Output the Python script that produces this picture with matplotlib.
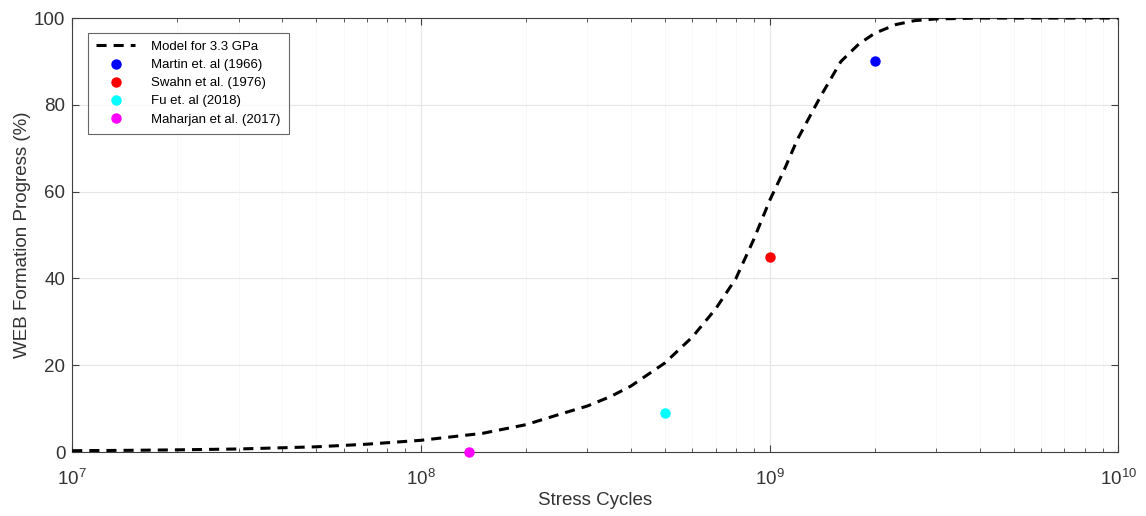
import numpy as np
import matplotlib
matplotlib.use("Agg")
import matplotlib.pyplot as plt

plt.rcParams['font.family'] = ['Liberation Sans', 'DejaVu Sans']

# model curve
cycles = [1e7, 1.5e7, 2e7, 3e7, 5e7, 7e7, 1e8, 1.5e8, 2e8, 2.5e8, 3e8, 3.5e8,
          4e8, 5e8, 6e8, 7e8, 8e8, 9e8, 1e9, 1.1e9, 1.2e9, 1.4e9, 1.6e9,
          1.8e9, 2e9, 2.3e9, 2.6e9, 3e9, 4e9, 6e9, 1e10]
progress = [0.3, 0.4, 0.5, 0.7, 1.2, 1.8, 2.7, 4.3, 6.3, 8.7, 10.6, 12.8,
            15.2, 20.5, 26.5, 33, 40, 49, 58, 65, 72, 82, 90,
            94, 96.5, 98.5, 99.4, 99.8, 100, 100, 100]

# experimental points
exp_labels = ['Martin et. al (1966)', 'Swahn et al. (1976)',
              'Fu et. al (2018)', 'Maharjan et al. (2017)']
exp_x = [2e9, 1e9, 5e8, 1.37e8]
exp_y = [90, 45, 9, 0]
exp_colors = ['#0000ff', '#ff0000', '#00ffff', '#ff00ff']

fig = plt.figure(figsize=(11.46, 5.16), dpi=100)
ax = fig.add_axes([0.063, 0.124, 0.913, 0.841])

ax.plot(cycles, progress, color='black', lw=2.2, linestyle=(0, (3.3, 2.3)),
        label='Model for 3.3 GPa', zorder=3)
for x, y, c, lab in zip(exp_x, exp_y, exp_colors, exp_labels):
    ax.plot(x, y, 'o', color=c, markersize=6.5, label=lab, zorder=4,
            clip_on=False)

ax.set_xscale('log')
ax.set_xlim(1e7, 1e10)
ax.set_ylim(0, 100)
ax.set_yticks([0, 20, 40, 60, 80, 100])

ax.grid(True, which='major', color='#e6e6e6', lw=0.8)
ax.grid(True, which='minor', color='#ededed', lw=0.7, linestyle=':')
ax.set_axisbelow(True)

for s in ax.spines.values():
    s.set_color('#404040')
    s.set_linewidth(0.8)
ax.tick_params(which='both', direction='in', top=True, right=True,
               colors='#404040', labelsize=13.5, labelcolor='#333333')
ax.tick_params(which='major', length=5)
ax.tick_params(which='minor', length=3)
ax.tick_params(axis='x', pad=12)
ax.tick_params(axis='y', pad=5)

ax.set_xlabel('Stress Cycles', fontsize=13.5, color='#333333', labelpad=2)
ax.set_ylabel('WEB Formation Progress (%)', fontsize=13.5, color='#333333',
              labelpad=2)

leg = ax.legend(loc='upper left', bbox_to_anchor=(0.015, 0.966), fontsize=9.5,
                frameon=True, fancybox=False, handlelength=3.0,
                borderpad=0.6, labelspacing=0.45, handletextpad=1.2,
                borderaxespad=0)
leg.get_frame().set_edgecolor('#404040')
leg.get_frame().set_linewidth(0.8)

fig.savefig('out.png', dpi=100)
